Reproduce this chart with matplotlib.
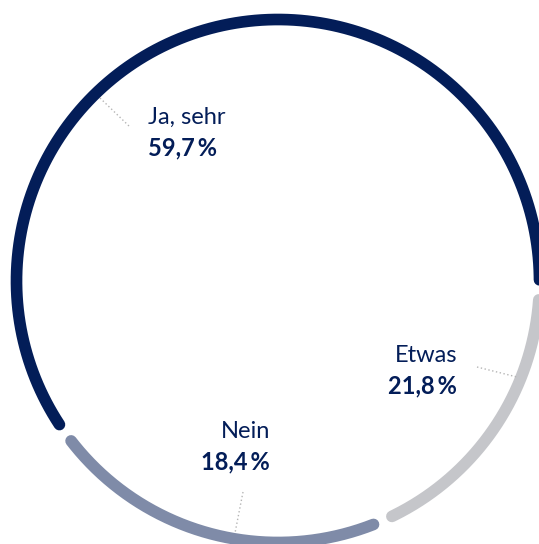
import numpy as np
import matplotlib.pyplot as plt

# Antworten und Anteile (wie beschriftet)
labels = ['Ja, sehr', 'Etwas', 'Nein']
shares = [59.7, 21.8, 18.4]
# Bogenlängen wie im Original gezeichnet (weichen von den Beschriftungen ab)
arc_shares = [60.4, 17.9, 21.7]
colors = ['#031d58', '#c5c6ca', '#7f8ba8']
navy = '#031d58'

# Ring-Geometrie in Pixeln (Bildkoordinaten)
cx, cy, r = 278, 281, 261.5
start = 215.5   # Grad, Lücke zwischen Nein und Ja
gap = 4.4       # Grad

fig = plt.figure(figsize=(5.39, 5.44), dpi=100)
ax = fig.add_axes([0, 0, 1, 1])
ax.set_xlim(0, 539)
ax.set_ylim(544, 0)
ax.axis('off')

cum = 0
for v, c in zip(arc_shares, colors):
    a0 = start - cum * 3.6 - gap / 2
    a1 = start - (cum + v) * 3.6 + gap / 2
    th = np.radians(np.linspace(a0, a1, 300))
    ax.plot(cx + r * np.cos(th), cy - r * np.sin(th), color=c, lw=8.4,
            solid_capstyle='round')
    cum += v

# Hinweislinien
dots = dict(color='#b5b5b5', lw=1, linestyle=(0, (1, 1.8)))
ax.plot([100, 130], [98, 127], **dots)
ax.plot([477, 517], [367, 377], **dots)
ax.plot([243, 235], [492, 533], **dots)

def pct(v):
    return f"{v:.1f}".replace('.', ',') + '\u2009%'

fam = ['Lato', 'DejaVu Sans']
pos = [(148, 124, 'left'), (457, 362, 'right'), (270, 438, 'right')]
for (x, y, ha), lab, v in zip(pos, labels, shares):
    ax.text(x, y, lab, fontsize=17, color=navy, ha=ha, va='baseline', family=fam)
    ax.text(x, y + 31, pct(v), fontsize=17, color=navy, ha=ha, va='baseline',
            family=fam, fontweight='bold')

fig.savefig('out.png', dpi=100)
